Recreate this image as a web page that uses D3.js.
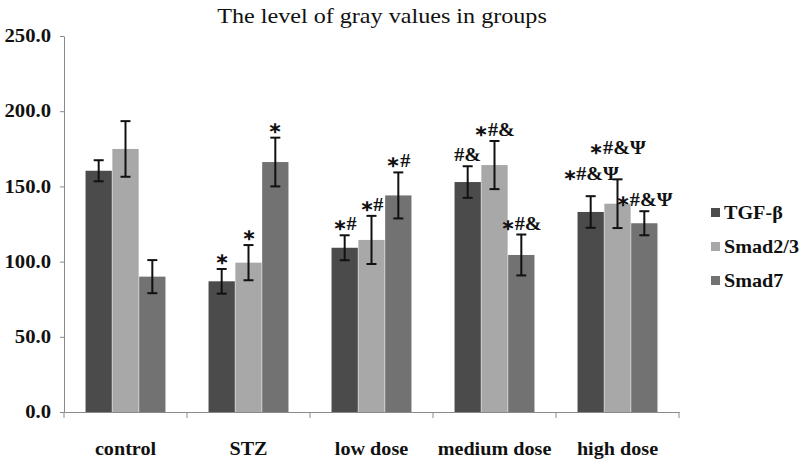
<!DOCTYPE html>
<html><head><meta charset="utf-8">
<script src="https://cdn.jsdelivr.net/npm/d3@7/dist/d3.min.js"></script>
<style>body{margin:0;background:#fff}svg{display:block}</style>
</head><body>
<svg id="c" width="800" height="459"></svg>
<script>
const categories = ["control","STZ","low dose","medium dose","high dose"];
const seriesNames = ["TGF-\u03b2","Smad2/3","Smad7"];
const tgf   = [160.4, 86.9, 109.2, 152.9, 133.0];
const smad23= [174.9, 99.3, 114.4, 164.2, 138.5];
const smad7 = [90.0, 166.2, 144.0, 104.4, 125.5];
const tgfErr   = [7.0, 8.2, 8.3, 10.5, 10.5];
const smad23Err= [18.5, 11.7, 16.0, 16.0, 16.2];
const smad7Err = [11.0, 16.2, 15.3, 13.6, 8.0];
const tgfSig   = ["", "\u2217", "\u2217#", "#&", "\u2217#&\u03a8"];
const smad23Sig= ["", "\u2217", "\u2217#", "\u2217#&", "\u2217#&\u03a8"];
const smad7Sig = ["", "\u2217", "\u2217#", "\u2217#&", "\u2217#&\u03a8"];
const yTicks = [0,50,100,150,200,250];
const colors = ["#4b4b4b","#a8a8a8","#727272"];

const values = [tgf, smad23, smad7];
const errs = [tgfErr, smad23Err, smad7Err];
const sigs = [tgfSig, smad23Sig, smad7Sig];

const svg = d3.select("#c");
const x0 = 64, x1 = 679, yTop = 36, yBot = 412;
const x = d3.scaleBand().domain(categories).range([x0, x1]).paddingInner(0).paddingOuter(0);
const y = d3.scaleLinear().domain([0,250]).range([yBot, yTop]);
const bw = 27;
const sub = d3.scaleBand().domain([0,1,2]).range([0, 3*bw]).padding(0.02);
const font = "Liberation Serif, serif";
const SX = 1.12;

function stext(sel, px, py, sx) {
  return sel.attr("x", px / sx).attr("y", py).attr("transform", `scale(${sx},1)`);
}

stext(svg.append("text"), 382, 23, 1.15).attr("text-anchor","middle")
  .attr("font-family", font).attr("font-size", 21).attr("fill","#111")
  .text("The level of gray values in groups");

// y axis
const ya = svg.append("g").attr("transform",`translate(${x0},0)`)
  .call(d3.axisLeft(y).tickValues(yTicks).tickFormat(d3.format(".1f")).tickSize(4).tickSizeOuter(0));
ya.select(".domain").attr("stroke","#8a8a8a");
ya.selectAll(".tick line").attr("stroke","#8a8a8a");
ya.selectAll(".tick text").attr("x",-13/1.15).attr("transform","scale(1.15,1)").attr("font-family",font).attr("font-weight","bold")
  .attr("font-size",18).attr("fill","#111").attr("dy","0.32em");

// x axis
const xa = svg.append("g").attr("transform",`translate(0,${yBot})`)
  .call(d3.axisBottom(x).tickSize(0).tickSizeOuter(0));
xa.select(".domain").attr("stroke","#8a8a8a");
xa.selectAll(".tick text").attr("y",30).attr("transform",`scale(${SX},1)`).attr("font-family",font).attr("font-weight","bold")
  .attr("font-size",18).attr("fill","#111");
const edges = categories.map(c => x(c)).concat([x1]);
svg.append("g").selectAll("line").data(edges).join("line")
  .attr("x1",d=>d).attr("x2",d=>d).attr("y1",yBot).attr("y2",yBot+6).attr("stroke","#8a8a8a");

// bars
categories.forEach((c, ci) => {
  const gx = x(c) + (x.bandwidth() - 3*bw)/2;
  const labels = [];
  values.forEach((arr, si) => {
    const bx = gx + sub(si), w = sub.bandwidth(), v = arr[ci], e = errs[si][ci];
    svg.append("rect").attr("x",bx).attr("y",y(v)).attr("width",w).attr("height",yBot-y(v)).attr("fill",colors[si]);
    const cx = bx + w/2;
    const g = svg.append("g").attr("stroke","#111").attr("stroke-width",2);
    g.append("line").attr("x1",cx).attr("x2",cx).attr("y1",y(v+e)).attr("y2",y(v-e));
    g.append("line").attr("x1",cx-5).attr("x2",cx+5).attr("y1",y(v+e)).attr("y2",y(v+e));
    g.append("line").attr("x1",cx-5).attr("x2",cx+5).attr("y1",y(v-e)).attr("y2",y(v-e));
    const s = sigs[si][ci];
    if (s) {
      const t = stext(svg.append("text"), cx, y(v+e)-5, SX).attr("text-anchor","middle")
        .attr("font-family",font).attr("font-weight","bold").attr("font-size",18).attr("fill","#111");
      Array.from(s).forEach(ch => {
        const ts = t.append("tspan").text(ch);
        if (ch === "\u2217") ts.attr("font-size",15);
      });
      labels.push({t, top: y(v+e)});
    }
  });
  // resolve overlaps: push the higher label up to keep a clear line gap
  labels.sort((a, b) => b.top - a.top);
  for (let i = 0; i < labels.length; i++) {
    for (let j = i + 1; j < labels.length; j++) {
      const a = labels[i], b = labels[j];
      const ra = a.t.node().getBoundingClientRect(), rb = b.t.node().getBoundingClientRect();
      const hOver = rb.left < ra.right && rb.right > ra.left;
      const ya_ = +a.t.attr("y"), yb_ = +b.t.attr("y");
      if (hOver && ya_ - yb_ < 24) b.t.attr("y", ya_ - 26);
    }
  }
});

// legend
const lg = svg.append("g");
seriesNames.forEach((n, i) => {
  const ly = 213 + i*34;
  lg.append("rect").attr("x",711).attr("y",ly-5).attr("width",9).attr("height",9).attr("fill",colors[i]);
  stext(lg.append("text"), 724, ly, SX).attr("dy","0.35em").attr("font-family",font)
    .attr("font-weight","bold").attr("font-size",18).attr("fill","#111").text(n);
});
</script>
</body></html>
